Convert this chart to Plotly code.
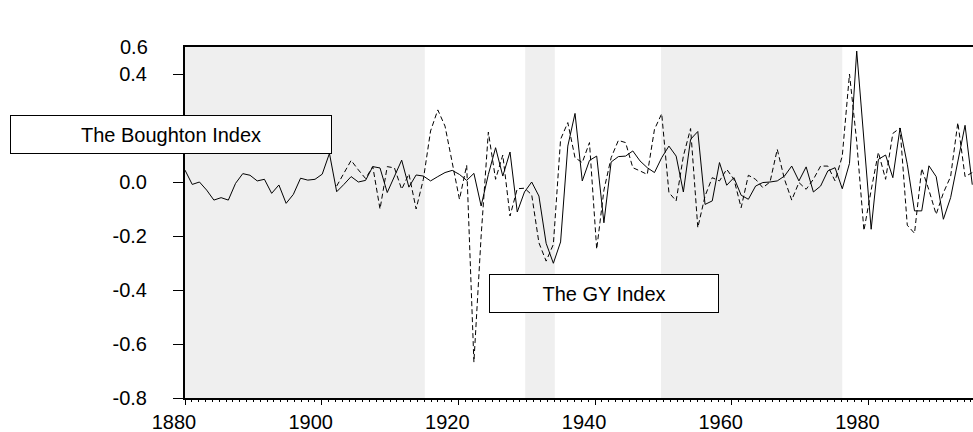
import plotly.graph_objects as go

years = list(range(1880, 1990))
boughton = [
    0.044, -0.009, 0.0, -0.03, -0.067, -0.058, -0.067, -0.005, 0.031, 0.025,
    0.004, 0.01, -0.042, -0.011, -0.079, -0.046, 0.014, 0.007, 0.01, 0.029,
    0.106, -0.036, -0.009, 0.02, 0.0, 0.006, 0.057, 0.052, -0.039, 0.02,
    0.081, -0.019, 0.026, 0.022, 0.004, 0.02, 0.035, 0.043, 0.028, 0.006,
    0.032, -0.089, 0.028, 0.127, 0.022, 0.111, -0.111, -0.037, 0.0, -0.052,
    -0.227, -0.301, -0.222, 0.133, 0.254, 0.004, 0.08, 0.096, -0.151, 0.074,
    0.094, 0.096, 0.115, 0.078, 0.053, 0.035, 0.09, 0.133, 0.096, -0.037,
    0.158, 0.187, -0.083, -0.07, 0.072, -0.012, 0.016, -0.049, -0.064, -0.015,
    -0.002, 0.0, 0.004, 0.022, 0.059, 0.004, 0.056, -0.037, -0.015, 0.041,
    0.053, -0.025, 0.069, 0.485, 0.16, -0.175, 0.084, 0.10, 0.016, 0.20,
    0.066, -0.107, -0.107, 0.06, 0.02, -0.138, -0.058, 0.08, 0.21, -0.01,
]

gy_years = list(range(1901, 1990))
gy = [
    -0.015, 0.035, 0.08, 0.045, 0.013, 0.057, -0.10, 0.057, 0.052,
    -0.027, 0.03, -0.10, 0.01, 0.189, 0.267, 0.207, 0.072, -0.064, 0.062,
    -0.667, -0.2, 0.185, 0.01, 0.10, -0.126, -0.025, -0.023, -0.047, -0.225,
    -0.293, -0.231, 0.158, 0.22, 0.09, 0.072, 0.146, -0.249, -0.03, 0.09,
    0.154, 0.146, 0.053, 0.041, 0.028, 0.195, 0.253, -0.039, -0.07, 0.096,
    0.198, -0.169, -0.052, 0.016, 0.004, 0.047, 0.01, -0.095, 0.025, 0.01,
    -0.021, 0.0, 0.121, 0.01, -0.067, -0.002, -0.027, 0.01, 0.059, 0.059,
    0.004, 0.096, 0.40, 0.15, -0.18, -0.03, 0.11, 0.01, 0.18, 0.20,
    -0.16, -0.19, 0.05, -0.03, -0.12, -0.04, 0.02, 0.22, 0.02, 0.035,
]

# shaded periods
shade_start = [1880, 1927.1, 1945.9]
shade_end = [1913.2, 1931.2, 1971.0]

# 0.2 is hidden behind the Boughton label box in the original
y_ticks = [-0.8, -0.6, -0.4, -0.2, 0.0, 0.2, 0.4]
y_tick_text = ["-0.8", "-0.6", "-0.4", "-0.2", "0.0", "", "0.4"]
x_ticks = [1880, 1900, 1920, 1940, 1960, 1980]

FONT = "Liberation Sans, Arial, sans-serif"

fig = go.Figure()

fig.add_trace(go.Scatter(
    x=years, y=boughton, mode="lines",
    line=dict(color="black", width=1),
    name="The Boughton Index",
))
fig.add_trace(go.Scatter(
    x=gy_years, y=gy, mode="lines",
    line=dict(color="black", width=1, dash="5px,3px"),
    name="The GY Index",
))
# empty trace so the label axis gets drawn
fig.add_trace(go.Scatter(x=[], y=[], xaxis="x2", showlegend=False))

for s, e in zip(shade_start, shade_end):
    fig.add_shape(type="rect", xref="x", yref="paper", x0=s, x1=e, y0=0, y1=1,
                  fillcolor="#efefef", line=dict(width=0), layer="below")

fig.update_layout(
    width=973, height=432,
    margin=dict(l=185, r=0, t=47, b=34),
    paper_bgcolor="white", plot_bgcolor="white",
    showlegend=False,
    font=dict(family=FONT, size=20, color="black"),
    xaxis=dict(
        range=[1880, 1989.1], showticklabels=False, ticks="",
        showline=True, linecolor="black", linewidth=1.5, mirror=True,
        showgrid=False, zeroline=False,
    ),
    # the original's year scale is slightly tighter than its data
    xaxis2=dict(
        range=[1880, 1995.3], overlaying="x", anchor="y", side="bottom",
        tickvals=x_ticks, ticks="outside", ticklen=6, tickwidth=1,
        tickcolor="black",
        minor=dict(dtick=1, ticks="outside", ticklen=3, tickcolor="black"),
        showline=False, showgrid=False, zeroline=False, ticklabelshift=-11,
    ),
    yaxis=dict(
        range=[-0.8, 0.5], tickvals=y_ticks, ticktext=y_tick_text,
        ticks="outside", ticklen=10, tickwidth=1, tickcolor="black",
        showline=True, linecolor="black", linewidth=2,
        showgrid=False, zeroline=False, ticklabelstandoff=22,
    ),
)

# top axis label sits at the frame edge in the original
fig.add_annotation(text="0.6", xref="paper", yref="paper", x=-0.0444, y=1,
                   xanchor="right", yanchor="middle", showarrow=False)

fig.add_annotation(text="The Boughton Index", xref="paper", yref="paper",
                   x=-0.0184, y=0.752, xanchor="center", yanchor="middle",
                   showarrow=False, width=320, height=37, borderpad=0,
                   bgcolor="white", bordercolor="black", borderwidth=1)
fig.add_annotation(text="The GY Index", xref="paper", yref="paper",
                   x=0.5311, y=0.2963, xanchor="center", yanchor="middle",
                   showarrow=False, width=228, height=37, borderpad=0,
                   bgcolor="white", bordercolor="black", borderwidth=1)

fig.write_html(
    "out.html",
    config={"displayModeBar": False},
    post_script="document.body.style.margin='0';document.body.style.overflow='hidden';",
)
